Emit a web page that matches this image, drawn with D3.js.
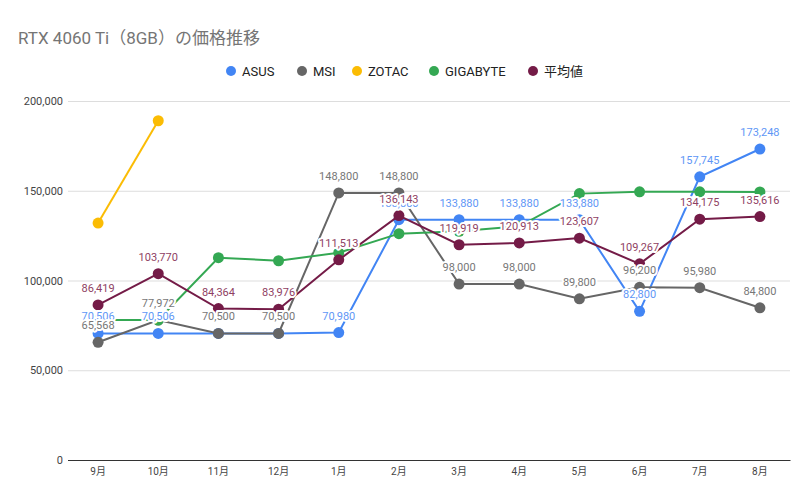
<!DOCTYPE html>
<html>
<head>
<meta charset="utf-8">
<script src="https://cdn.jsdelivr.net/npm/d3@7"></script>
<style>
  body { margin: 0; background: #fff; }
  svg { display: block; font-family: Roboto, "Noto Sans CJK JP", sans-serif; }
</style>
</head>
<body>
<svg id="chart" width="812" height="502"></svg>
<script>
// data
var months = ["9月", "10月", "11月", "12月", "1月", "2月", "3月", "4月", "5月", "6月", "7月", "8月"];
var seriesNames = ["ASUS", "MSI", "ZOTAC", "GIGABYTE", "平均値"];
var asus = [70506, 70506, 70500, 70500, 70980, 133880, 133880, 133880, 133880, 82800, 157745, 173248];
var msi = [65568, 77972, 70500, 70500, 148800, 148800, 98000, 98000, 89800, 96200, 95980, 84800];
var zotac = [132000, 189000, null, null, null, null, null, null, null, null, null, null];
var gigabyte = [78000, 78000, 112700, 111000, 115500, 126100, 127400, 130200, 148400, 149400, 149400, 149300];
var average = [86419, 103770, 84364, 83976, 111513, 136143, 119919, 120913, 123607, 109267, 134175, 135616];
var yTicks = [0, 50000, 100000, 150000, 200000];

var colors = ["#4285f4", "#666666", "#fbbc04", "#34a853", "#741b47"];
var labelColors = ["#5f97f6", "#777777", null, null, "#8f3f63"];
var allSeries = [asus, msi, zotac, gigabyte, average];

var svg = d3.select("#chart");
var plotLeft = 68, plotRight = 790, plotTop = 101, plotBottom = 460;

var x = d3.scaleBand().domain(months).range([plotLeft, plotRight]);
var y = d3.scaleLinear().domain([0, 200000]).range([plotBottom, plotTop]);
var fmt = d3.format(",");

// title
svg.append("text")
  .attr("x", 18).attr("y", 44)
  .attr("font-size", 17).attr("fill", "#757575")
  .text("RTX 4060 Ti（8GB）の価格推移");

// gridlines + y axis
var yAxis = d3.axisLeft(y).tickValues(yTicks).tickFormat(fmt).tickSize(plotLeft - plotRight).tickPadding(5);
var gy = svg.append("g").attr("transform", "translate(" + plotLeft + ",0)").call(yAxis);
gy.select(".domain").remove();
gy.selectAll(".tick line").attr("stroke", "#dddddd");
gy.selectAll(".tick text").attr("font-size", 11).attr("fill", "#444").attr("font-family", "Roboto, sans-serif");
gy.selectAll(".tick").filter(function(d) { return d === 0; }).select("line").attr("stroke", "#333");

// x axis
var xAxis = d3.axisBottom(x).tickSize(0).tickPadding(8);
var gx = svg.append("g").attr("transform", "translate(0," + plotBottom + ")").call(xAxis);
gx.select(".domain").attr("stroke", "#333");
gx.selectAll(".tick text").attr("font-size", 10).attr("fill", "#444").attr("font-family", "Roboto, 'Noto Sans CJK JP', sans-serif");

// lines and points
var line = d3.line()
  .defined(function(d) { return d !== null; })
  .x(function(d, i) { return x(months[i]) + x.bandwidth() / 2; })
  .y(function(d) { return y(d); });

allSeries.forEach(function(values, s) {
  var g = svg.append("g");
  g.append("path")
    .datum(values)
    .attr("fill", "none")
    .attr("stroke", colors[s])
    .attr("stroke-width", 2)
    .attr("d", line);
  g.selectAll("circle")
    .data(values.map(function(v, i) { return { v: v, i: i }; }).filter(function(d) { return d.v !== null; }))
    .enter().append("circle")
      .attr("cx", function(d) { return x(months[d.i]) + x.bandwidth() / 2; })
      .attr("cy", function(d) { return y(d.v); })
      .attr("r", 5.5)
      .attr("fill", colors[s]);
});

// data labels (white halo hides what is behind them)
allSeries.forEach(function(values, s) {
  if (!labelColors[s]) return;
  svg.append("g").selectAll("text")
    .data(values.map(function(v, i) { return { v: v, i: i }; }).filter(function(d) { return d.v !== null; }))
    .enter().append("text")
      .attr("x", function(d) { return x(months[d.i]) + x.bandwidth() / 2; })
      .attr("y", function(d) { return y(d.v) - 13; })
      .attr("text-anchor", "middle")
      .attr("font-size", 11)
      .attr("fill", labelColors[s])
      .attr("stroke", "#fff").attr("stroke-width", 4).attr("stroke-linejoin", "round")
      .attr("paint-order", "stroke")
      .text(function(d) { return fmt(d.v); });
});

// legend
var legendX = [231, 302, 357, 434, 533];
var lg = svg.append("g");
seriesNames.forEach(function(name, s) {
  lg.append("circle").attr("cx", legendX[s]).attr("cy", 71).attr("r", 5).attr("fill", colors[s]);
  lg.append("text").attr("x", legendX[s] + 11).attr("y", 76)
    .attr("font-size", 13).attr("fill", "#222").text(name);
});
</script>
</body>
</html>
